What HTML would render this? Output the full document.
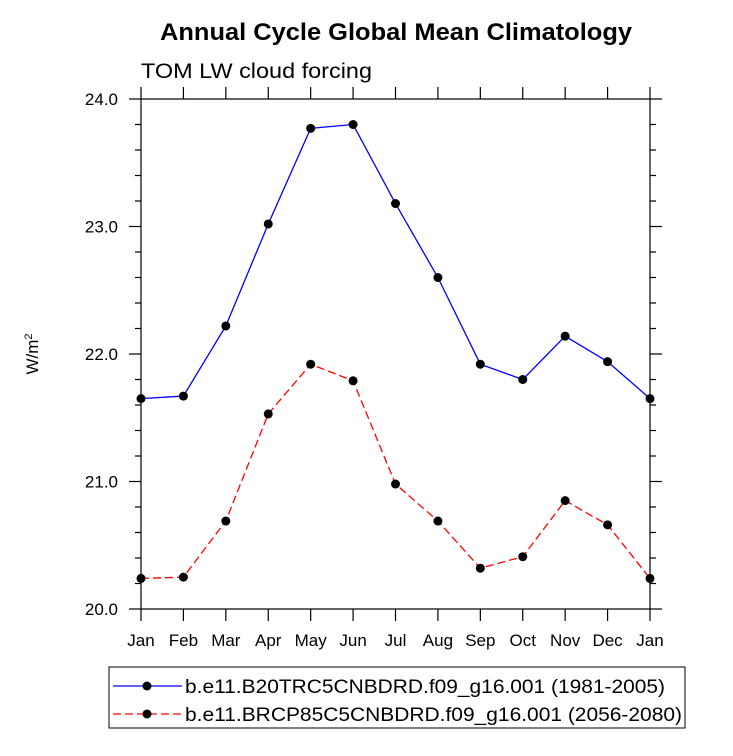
<!DOCTYPE html>
<html><head><meta charset="utf-8"><style>
body{margin:0;background:#fff;}
svg{display:block;font-family:"Liberation Sans",sans-serif;}
</style></head><body>
<svg width="733" height="756" id="chart">
<text x="160" y="40" textLength="472" lengthAdjust="spacingAndGlyphs" font-size="24" font-weight="bold">Annual Cycle Global Mean Climatology</text>
<text x="141" y="78" textLength="231" lengthAdjust="spacingAndGlyphs" font-size="21">TOM LW cloud forcing</text>
<text transform="translate(38,354) rotate(-90)" text-anchor="middle" font-size="17">W/m<tspan font-size="11" dy="-6">2</tspan></text>
<g id="axes"></g>
<g id="series"></g>
<g>
<rect x="109" y="667" width="576" height="61" fill="none" stroke="#000" stroke-width="1"/>
<line x1="113" y1="686" x2="182" y2="686" stroke="#00f" stroke-width="1.3"/>
<circle cx="147" cy="686" r="4.5"/>
<text x="185" y="693" textLength="480" lengthAdjust="spacingAndGlyphs" font-size="19">b.e11.B20TRC5CNBDRD.f09_g16.001 (1981-2005)</text>
<line x1="113" y1="714" x2="182" y2="714" stroke="#f00" stroke-width="1.3" stroke-dasharray="8,4"/>
<circle cx="147" cy="714" r="4.5"/>
<text x="185" y="721" textLength="497" lengthAdjust="spacingAndGlyphs" font-size="19">b.e11.BRCP85C5CNBDRD.f09_g16.001 (2056-2080)</text>
</g>
</svg>
<script>
const months=["Jan","Feb","Mar","Apr","May","Jun","Jul","Aug","Sep","Oct","Nov","Dec","Jan"];
const histValues=[21.65,21.67,22.22,23.02,23.77,23.80,23.18,22.60,21.92,21.80,22.14,21.94,21.65];
const rcpValues=[20.24,20.25,20.69,21.53,21.92,21.79,20.98,20.69,20.32,20.41,20.85,20.66,20.24];
const yTicks=["20.0","21.0","22.0","23.0","24.0"];
const L=141,R=650,T=99,B=609,yMin=20,yMax=24;
const xs=i=>L+(R-L)*i/(months.length-1);
const ys=v=>B-(v-yMin)/(yMax-yMin)*(B-T);
const NS="http://www.w3.org/2000/svg";
function mk(tag,attrs,parent){const e=document.createElementNS(NS,tag);for(const k in attrs)e.setAttribute(k,attrs[k]);parent.appendChild(e);return e;}
const ax=document.getElementById('axes');
const frame=mk('rect',{x:L,y:T,width:R-L,height:B-T,fill:'none',stroke:'#000','stroke-width':1.2},ax);


const st={stroke:'#000','stroke-width':1.2};
for(let i=0;i<months.length;i++){
  const x=xs(i);
  mk('line',Object.assign({x1:x,y1:B,x2:x,y2:B+12},st),ax);
  mk('line',Object.assign({x1:x,y1:T,x2:x,y2:T-12},st),ax);
  const t=mk('text',{x:x,y:B+37,'text-anchor':'middle','font-size':17},ax);
  t.textContent=months[i];
  
  
}
for(let v=yMin;v<=yMax+1e-9;v+=0.2){
  const y=ys(v);const major=Math.abs(v-Math.round(v))<1e-6;const len=major?12:6;
  mk('line',Object.assign({x1:L,y1:y,x2:L-len,y2:y},st),ax);
  mk('line',Object.assign({x1:R,y1:y,x2:R+len,y2:y},st),ax);
}
yTicks.forEach(s=>{
  const t=mk('text',{x:118,y:ys(parseFloat(s))+6,'text-anchor':'end','font-size':17},ax);
  t.textContent=s;
  
  
});
const sg=document.getElementById('series');
function drawSeries(vals,color,dash,name){
  const pts=vals.map((v,i)=>xs(i)+','+ys(v)).join(' ');
  const pl=mk('polyline',{points:pts,fill:'none',stroke:color,'stroke-width':1.3},sg);
  if(dash)pl.setAttribute('stroke-dasharray',dash);
  
  
  vals.forEach((v,i)=>{
    const c=mk('circle',{cx:xs(i),cy:ys(v),r:4.5,fill:'#000'},sg);
    
    
  });
}
drawSeries(histValues,'#00f',null,'historical');
drawSeries(rcpValues,'#f00','8,4','rcp85');
</script>
</body></html>
